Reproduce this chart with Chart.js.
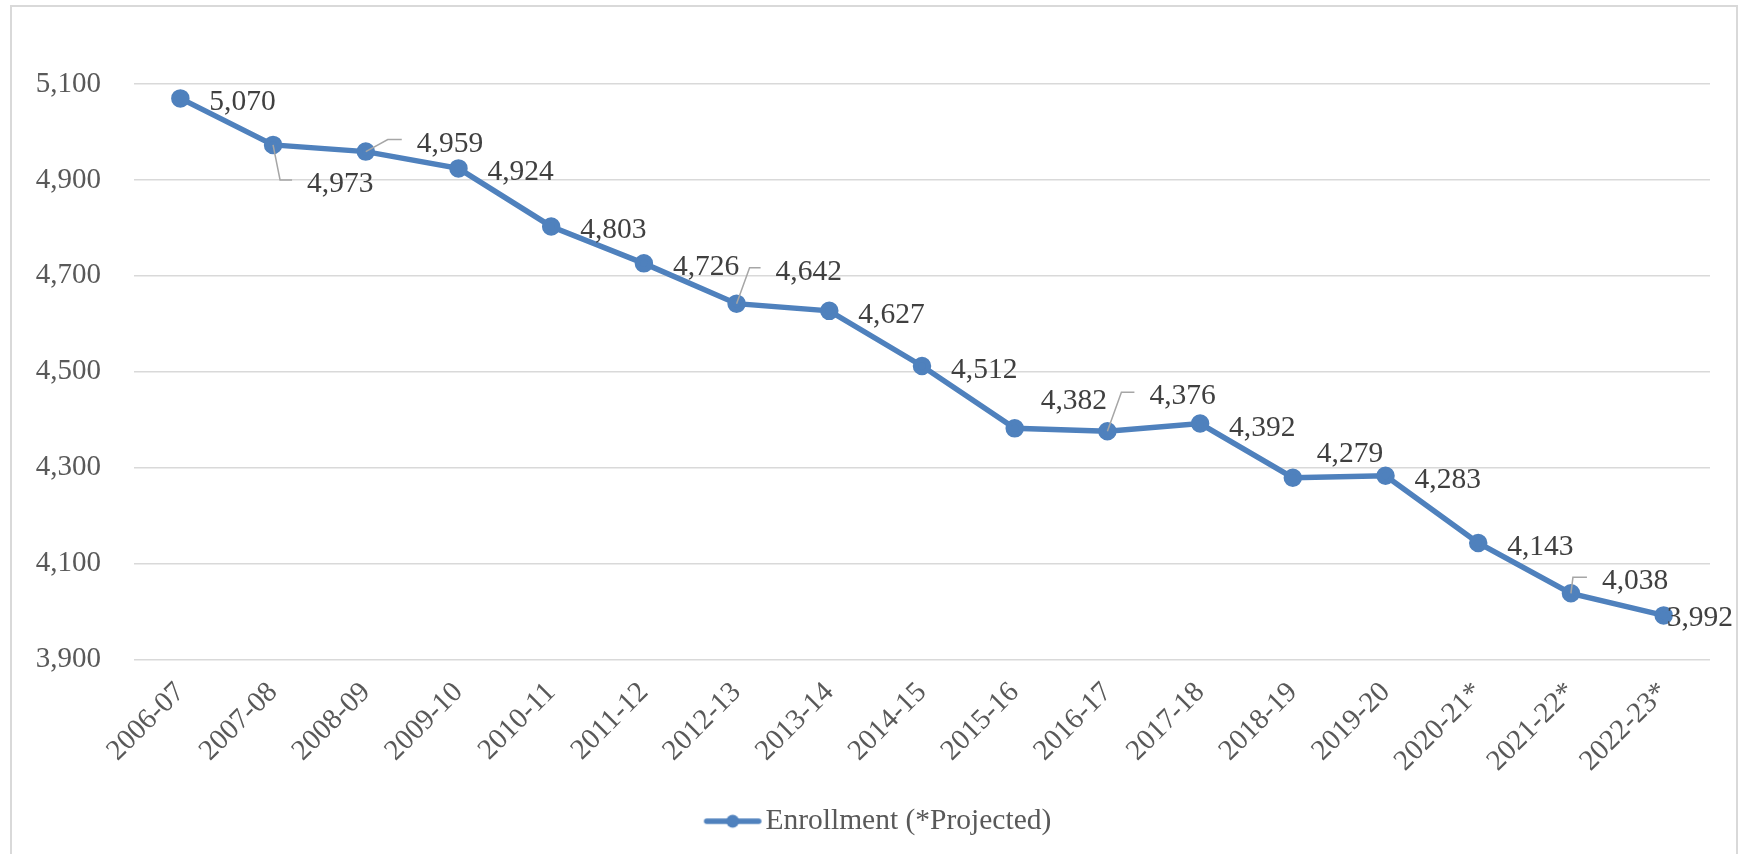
<!DOCTYPE html>
<html>
<head>
<meta charset="utf-8">
<title>Enrollment</title>
<script src="https://cdn.jsdelivr.net/npm/chart.js@4.4.1/dist/chart.umd.min.js"></script>
<style>
  html, body { margin: 0; padding: 0; background: #fff; overflow: hidden; }
  #wrap { position: relative; width: 1741px; height: 854px; }
  #frame { position: absolute; left: 10px; top: 5px; width: 1728px; height: 900px; border: 2px solid #d9d9d9; box-sizing: border-box; pointer-events: none; }
  #chart { position: absolute; left: 0; top: 0; }
</style>
</head>
<body>
<div id="wrap">
  <canvas id="chart" width="1741" height="854"></canvas>
  <div id="frame"></div>
</div>
<script>
// school years on the x axis, starred ones are projections
const years = ['2006-07', '2007-08', '2008-09', '2009-10', '2010-11', '2011-12', '2012-13', '2013-14',
  '2014-15', '2015-16', '2016-17', '2017-18', '2018-19', '2019-20', '2020-21*', '2021-22*', '2022-23*'];

const enrollment = [5070, 4973, 4959, 4924, 4803, 4726, 4642, 4627,
  4512, 4382, 4376, 4392, 4279, 4283, 4143, 4038, 3992];

const yMin = 3900;
const yMax = 5100;
const yStep = 200;

const lineBlue = '#4f81bd';
const serif = '"Liberation Serif", "Times New Roman", serif';

// where each value label sits relative to its point (text left / text middle);
// a few were dragged off the default spot and get a leader line back to the point
const defaultNudge = { dx: 30, dy: 2 };
const labelNudges = {
  1: { dx: 35, dy: 37, elbow: 7 },
  2: { dx: 52, dy: -10, elbow: 22 },
  6: { dx: 40, dy: -34, elbow: 13 },
  9: { dx: 27, dy: -29 },
  10: { dx: 43, dy: -37, elbow: 14 },
  12: { dx: 25, dy: -26 },
  15: { dx: 32, dy: -14, elbow: 2 },
  16: { dx: 4, dy: 1 }
};

const fmt = v => v.toLocaleString('en-US');

// line with a dot in the middle, used as the legend symbol
function legendMarker() {
  const c = document.createElement('canvas');
  c.width = 60;
  c.height = 18;
  const g = c.getContext('2d');
  g.strokeStyle = lineBlue;
  g.lineWidth = 5.5;
  g.lineCap = 'round';
  g.beginPath();
  g.moveTo(4, 9);
  g.lineTo(56, 9);
  g.stroke();
  g.fillStyle = lineBlue;
  g.beginPath();
  g.arc(30, 9, 6.5, 0, Math.PI * 2);
  g.fill();
  return c;
}

const valueLabels = {
  id: 'valueLabels',
  afterDatasetsDraw(chart) {
    const ctx = chart.ctx;
    const meta = chart.getDatasetMeta(0);
    ctx.save();
    ctx.font = '29.5px ' + serif;
    ctx.fillStyle = '#404040';
    ctx.textBaseline = 'alphabetic';
    ctx.textAlign = 'left';
    meta.data.forEach((pt, i) => {
      const n = labelNudges[i] || defaultNudge;
      const tx = pt.x + n.dx;
      const ty = pt.y + n.dy;
      if (n.elbow !== undefined) {
        ctx.strokeStyle = '#a6a6a6';
        ctx.lineWidth = 1.5;
        ctx.beginPath();
        ctx.moveTo(pt.x, pt.y);
        ctx.lineTo(pt.x + n.elbow, ty - 2);
        ctx.lineTo(tx - 16, ty - 2);
        ctx.stroke();
      }
      ctx.fillText(fmt(enrollment[i]), tx - 1, ty + 10);
    });
    ctx.restore();
  }
};

// the legend is centred on the whole frame, not just the space left of the right padding
const legendShift = {
  id: 'legendShift',
  afterLayout(chart) {
    if (chart.legend) {
      chart.legend.left += 28;
      chart.legend.right += 28;
    }
  }
};

const marker = legendMarker();

new Chart(document.getElementById('chart'), {
  type: 'line',
  data: {
    labels: years,
    datasets: [{
      label: 'Enrollment (*Projected)',
      data: enrollment,
      borderColor: lineBlue,
      backgroundColor: lineBlue,
      pointBackgroundColor: lineBlue,
      pointBorderColor: lineBlue,
      borderWidth: 5.5,
      pointRadius: 6.5,
      pointHoverRadius: 6.5,
      tension: 0,
      fill: false
    }]
  },
  options: {
    responsive: false,
    animation: false,
    devicePixelRatio: 1,
    layout: { padding: { left: 0, right: 31, top: 84, bottom: 8 } },
    scales: {
      x: {
        offset: true,
        grid: { display: false },
        border: { display: false },
        ticks: {
          autoSkip: false,
          minRotation: 45,
          maxRotation: 45,
          padding: 8,
          color: '#595959',
          font: { family: serif, size: 29 }
        },
        afterFit(scale) { scale.height = 137; }
      },
      y: {
        min: yMin,
        max: yMax,
        grid: { color: '#d9d9d9', lineWidth: 1.5, drawTicks: false },
        border: { display: false },
        ticks: {
          stepSize: yStep,
          padding: 33,
          color: '#595959',
          font: { family: serif, size: 29 },
          callback: v => fmt(v)
        },
        // plot area starts at x = 134
        afterFit(scale) { scale.width = 134; }
      }
    },
    plugins: {
      tooltip: { enabled: false },
      legend: {
        position: 'bottom',
        labels: {
          usePointStyle: true,
          pointStyleWidth: 36,
          padding: 10,
          color: '#595959',
          font: { family: serif, size: 29.5 },
          generateLabels(chart) {
            const items = Chart.defaults.plugins.legend.labels.generateLabels(chart);
            items.forEach(it => { it.pointStyle = marker; });
            return items;
          }
        }
      }
    }
  },
  plugins: [valueLabels, legendShift]
});
</script>
</body>
</html>
